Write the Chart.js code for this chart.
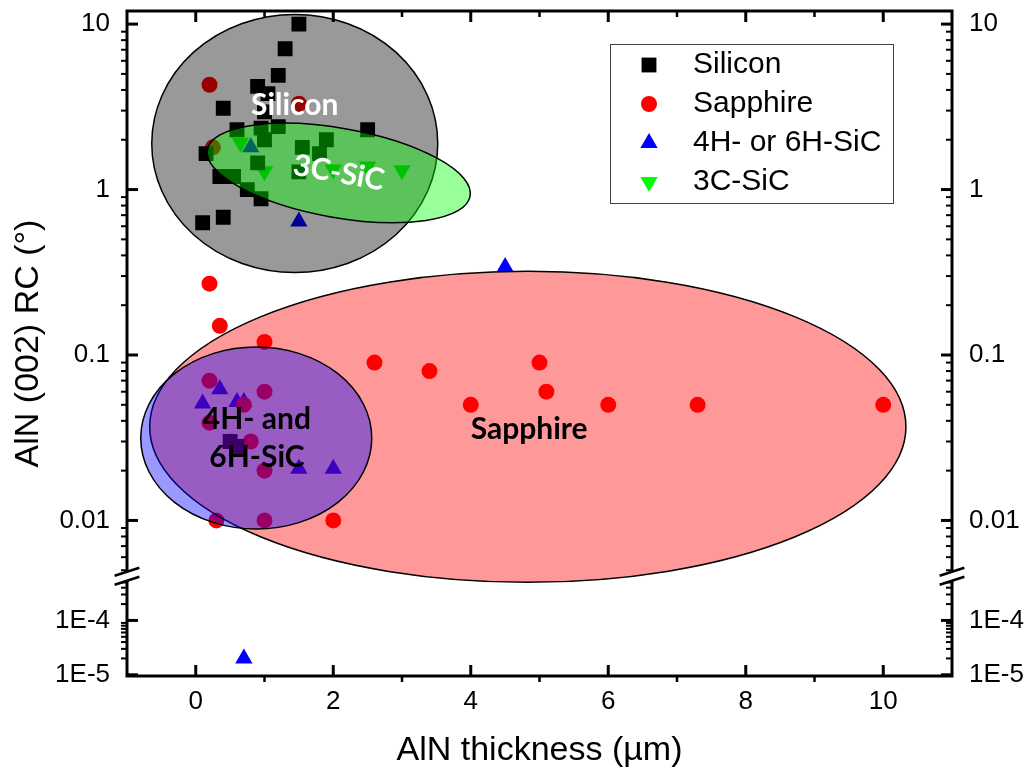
<!DOCTYPE html>
<html>
<head>
<meta charset="utf-8">
<script src="https://cdn.jsdelivr.net/npm/chart.js@4.4.1/dist/chart.umd.min.js"></script>
<style>
  html, body { margin: 0; padding: 0; background: #fff; }
  #wrap { width: 1029px; height: 771px; position: relative; }
</style>
</head>
<body>
<div id="wrap"><canvas id="chart"></canvas></div>
<script>
// Series (x = AlN thickness in µm, y = rocking curve FWHM in degrees)
const seriesNames = ['Silicon', 'Sapphire', '4H- or 6H-SiC', '3C-SiC'];

const siliconX = [1.5, 1.3, 1.2, 0.9, 1.05, 0.4, 1.0, 0.6, 0.95, 1.2, 2.5, 1.0, 1.55, 1.9, 1.8, 0.15, 0.9, 0.35, 0.55, 0.75, 0.95, 0.4, 0.1, 1.5, 0.5, 0.6];
const siliconY = [10, 7.1, 4.9, 4.2, 3.8, 3.1, 2.95, 2.3, 2.35, 2.4, 2.3, 2.0, 1.8, 2.0, 1.65, 1.65, 1.45, 1.2, 1.2, 1.0, 0.88, 0.68, 0.63, 1.28, 0.03, 0.028];

const sapphireX = [0.2, 1.5, 0.25, 0.2, 0.35, 1.0, 2.6, 3.4, 0.2, 1.0, 0.7, 0.2, 0.8, 1.0, 0.3, 1.0, 2.0, 4.0, 5.0, 5.1, 6.0, 7.3, 10.0];
const sapphireY = [4.3, 3.3, 1.8, 0.27, 0.15, 0.12, 0.09, 0.08, 0.07, 0.06, 0.05, 0.039, 0.03, 0.02, 0.01, 0.01, 0.01, 0.05, 0.09, 0.06, 0.05, 0.05, 0.05];

const hexSicX = [0.8, 1.5, 4.5, 0.35, 0.1, 0.6, 0.7, 0.5, 0.6, 1.5, 2.0, 0.7];
const hexSicY = [1.8, 0.64, 0.34, 0.062, 0.051, 0.052, 0.052, 0.0295, 0.0265, 0.0205, 0.0205, 2e-5];

const cubicSicX = [0.65, 1.0, 2.0, 2.5, 3.0];
const cubicSicY = [1.92, 1.29, 1.32, 1.38, 1.31];

// Axes
const xTickValues = [0, 2, 4, 6, 8, 10];
const yTickValues = [1e-5, 1e-4, 0.01, 0.1, 1, 10];
const yTickLabels = ['1E-5', '1E-4', '0.01', '0.1', '1', '10'];

// Grouping regions, in data units (rx in µm, ry in decades)
const regionNames = ['Silicon', '3C-SiC', 'Sapphire', '4H- and 6H-SiC'];
const regionCx = [1.44, 2.08, 4.83, 0.88];
const regionCy = [1.9, 1.26, 0.0368, 0.0315];
const regionRx = [2.08, 1.94, 5.5, 1.68];
const regionRy = [0.78, 0.27, 0.94, 0.55];
const regionTilt = [0, 10, 0, 0];
const regionLabelX = [1.44, 2.08, 4.85, 0.89];
const regionLabelY = [3.25, 1.26, 0.0353, 0.0312];
const regionLabelText = [['Silicon'], ['3C-SiC'], ['Sapphire'], ['4H- and', '6H-SiC']];

// broken log axis: lower piece and upper piece, lower piece gets LOW_SHARE of the height
const Y_LOW = [9.5e-6, 6.5e-4];
const Y_HIGH = [0.0046, 12];
const LOW_SHARE = 0.15;

const regionFill = ['rgba(0,0,0,0.4)', 'rgba(0,255,0,0.4)', 'rgba(255,0,0,0.4)', 'rgba(0,0,255,0.4)'];
const regionTextColor = ['#fff', '#fff', '#000', '#000'];

class BrokenLogScale extends Chart.Scale {
  determineDataLimits() {
    this.min = Y_LOW[0];
    this.max = Y_HIGH[1];
  }
  buildTicks() {
    return yTickValues.map(v => ({ value: v }));
  }
  getLabelForValue(v) {
    return String(v);
  }
  _decimal(v) {
    const lg = Math.log10(v);
    if (v >= Y_HIGH[0]) {
      const a = Math.log10(Y_HIGH[0]), b = Math.log10(Y_HIGH[1]);
      return LOW_SHARE + (1 - LOW_SHARE) * (lg - a) / (b - a);
    }
    const a = Math.log10(Y_LOW[0]), b = Math.log10(Y_LOW[1]);
    return LOW_SHARE * (lg - a) / (b - a);
  }
  getPixelForValue(v) {
    return this.getPixelForDecimal(this._decimal(v));
  }
  getValueForPixel(p) {
    const d = this.getDecimalForPixel(p);
    if (d >= LOW_SHARE) {
      const a = Math.log10(Y_HIGH[0]), b = Math.log10(Y_HIGH[1]);
      return Math.pow(10, a + (d - LOW_SHARE) / (1 - LOW_SHARE) * (b - a));
    }
    const a = Math.log10(Y_LOW[0]), b = Math.log10(Y_LOW[1]);
    return Math.pow(10, a + d / LOW_SHARE * (b - a));
  }
}
BrokenLogScale.id = 'brokenLog';
BrokenLogScale.defaults = {};
Chart.register(BrokenLogScale);

function points(xs, ys) {
  return xs.map((x, i) => ({ x: x, y: ys[i] }));
}

// minor tick positions
const xMinorTicks = [1, 3, 5, 7, 9];
const yMinorTicks = [];
[1e-5, 1e-4, 1e-3, 1e-2, 1e-1, 1].forEach(d => {
  for (let k = 2; k <= 9; k++) {
    const v = k * d;
    if ((v > Y_LOW[0] && v < Y_LOW[1]) || (v > Y_HIGH[0] && v < Y_HIGH[1])) yMinorTicks.push(v);
  }
});

const regionsPlugin = {
  id: 'regions',
  afterDatasetsDraw(chart) {
    const { ctx } = chart;
    const x = chart.scales.x, y = chart.scales.y;
    ctx.save();
    regionNames.forEach((name, i) => {
      const cx = x.getPixelForValue(regionCx[i]);
      const cy = y.getPixelForValue(regionCy[i]);
      const rx = x.getPixelForValue(regionCx[i] + regionRx[i]) - cx;
      const ry = cy - y.getPixelForValue(regionCy[i] * Math.pow(10, regionRy[i]));
      ctx.beginPath();
      ctx.ellipse(cx, cy, rx, ry, regionTilt[i] * Math.PI / 180, 0, Math.PI * 2);
      ctx.fillStyle = regionFill[i];
      ctx.fill();
      ctx.lineWidth = 1.5;
      ctx.strokeStyle = '#000';
      ctx.stroke();
    });
    ctx.textAlign = 'center';
    ctx.textBaseline = 'middle';
    ctx.font = 'bold 30px Lato';
    regionNames.forEach((name, i) => {
      const lx = x.getPixelForValue(regionLabelX[i]);
      const ly = y.getPixelForValue(regionLabelY[i]);
      const lines = regionLabelText[i];
      ctx.save();
      ctx.translate(lx, ly);
      ctx.rotate(regionTilt[i] * Math.PI / 180);
      ctx.fillStyle = regionTextColor[i];
      lines.forEach((t, j) => {
        ctx.fillText(t, 0, (j - (lines.length - 1) / 2) * 38);
      });
      ctx.restore();
    });
    ctx.restore();
  }
};

const framePlugin = {
  id: 'frame',
  afterDraw(chart) {
    const { ctx, chartArea: a } = chart;
    const x = chart.scales.x, y = chart.scales.y;
    ctx.save();
    ctx.strokeStyle = '#000';
    ctx.lineWidth = 3;
    ctx.strokeRect(a.left, a.top, a.right - a.left, a.bottom - a.top);

    const line = (x1, y1, x2, y2, w) => {
      ctx.lineWidth = w;
      ctx.beginPath();
      ctx.moveTo(x1, y1);
      ctx.lineTo(x2, y2);
      ctx.stroke();
    };
    xTickValues.forEach(v => {
      const px = x.getPixelForValue(v);
      line(px, a.bottom, px, a.bottom - 11, 3);
      line(px, a.top, px, a.top + 11, 3);
    });
    xMinorTicks.forEach(v => {
      const px = x.getPixelForValue(v);
      line(px, a.bottom, px, a.bottom + 6, 2.5);
      line(px, a.top, px, a.top + 6, 2.5);
    });
    yTickValues.forEach(v => {
      const py = y.getPixelForValue(v);
      line(a.left, py, a.left + 11, py, 3);
      line(a.right, py, a.right - 11, py, 3);
    });
    yMinorTicks.forEach(v => {
      const py = y.getPixelForValue(v);
      line(a.left, py, a.left - 6, py, 2);
      line(a.right, py, a.right - 6, py, 2);
    });

    // axis break marks
    const yb = y.getPixelForDecimal(LOW_SHARE);
    const L = 13, th = 18 * Math.PI / 180, g = 4.5;
    const dx = L * Math.cos(th), dy = L * Math.sin(th);
    [a.left, a.right].forEach(xb => {
      ctx.fillStyle = '#fff';
      ctx.beginPath();
      ctx.moveTo(xb - dx, yb - g + dy);
      ctx.lineTo(xb + dx, yb - g - dy);
      ctx.lineTo(xb + dx, yb + g - dy);
      ctx.lineTo(xb - dx, yb + g + dy);
      ctx.closePath();
      ctx.fill();
      line(xb - dx, yb - g + dy, xb + dx, yb - g - dy, 2.5);
      line(xb - dx, yb + g + dy, xb + dx, yb + g - dy, 2.5);
    });

    // legend
    ctx.fillStyle = '#fff';
    ctx.fillRect(610, 44, 283, 159);
    ctx.strokeStyle = '#444';
    ctx.lineWidth = 1;
    ctx.strokeRect(610.5, 44.5, 283, 159);
    ctx.font = '30px "Liberation Sans"';
    ctx.textBaseline = 'middle';
    ctx.textAlign = 'left';
    chart.data.datasets.forEach((ds, i) => {
      const yy = 65 + i * 39;
      ctx.fillStyle = ds.backgroundColor;
      Chart.helpers.drawPoint(ctx, {
        pointStyle: ds.pointStyle, radius: ds.pointRadius,
        rotation: ds.pointRotation || 0, borderWidth: 0
      }, 649, yy);
      ctx.fillStyle = '#000';
      ctx.fillText(ds.label, 693, yy);
    });
    ctx.restore();
  }
};

const tickFont = { family: 'Liberation Sans', size: 26 };
const titleFont = { family: 'Liberation Sans', size: 34 };

// keep the plot box fixed: no extra room for overhanging tick labels
const noOverhang = s => { s.paddingTop = 0; s.paddingBottom = 0; s.paddingLeft = 0; s.paddingRight = 0; };

new Chart(document.getElementById('chart'), {
  type: 'scatter',
  data: {
    datasets: [
      { label: seriesNames[0], data: points(siliconX, siliconY), pointStyle: 'rect', pointRadius: 10.5,
        backgroundColor: '#000000', pointBorderWidth: 0 },
      { label: seriesNames[1], data: points(sapphireX, sapphireY), pointStyle: 'circle', pointRadius: 8,
        backgroundColor: '#ff0000', pointBorderWidth: 0 },
      { label: seriesNames[2], data: points(hexSicX, hexSicY), pointStyle: 'triangle', pointRadius: 10,
        backgroundColor: '#0000ff', pointBorderWidth: 0 },
      { label: seriesNames[3], data: points(cubicSicX, cubicSicY), pointStyle: 'triangle', pointRotation: 180,
        pointRadius: 10, backgroundColor: '#00ff00', pointBorderWidth: 0 }
    ]
  },
  options: {
    responsive: true,
    maintainAspectRatio: false,
    animation: false,
    events: [],
    layout: { padding: 0 },
    plugins: { legend: { display: false }, tooltip: { enabled: false } },
    scales: {
      x: {
        type: 'linear', position: 'bottom', min: -1, max: 11,
        afterBuildTicks: s => { s.ticks = xTickValues.map(v => ({ value: v })); },
        afterFit: s => { s.height = 95; noOverhang(s); },
        grid: { display: false, drawTicks: false },
        border: { display: false },
        ticks: { font: tickFont, color: '#000', padding: 10, autoSkip: false, maxRotation: 0 },
        title: { display: true, text: 'AlN thickness (µm)', font: titleFont, color: '#000', padding: 0 }
      },
      x2: {
        type: 'linear', position: 'top', min: -1, max: 11,
        afterFit: s => { s.height = 11; noOverhang(s); },
        grid: { display: false, drawTicks: false },
        border: { display: false },
        ticks: { display: false }
      },
      y: {
        type: 'brokenLog', position: 'left',
        afterFit: s => { s.width = 127; noOverhang(s); },
        grid: { display: false, drawTicks: false },
        border: { display: false },
        ticks: { font: tickFont, color: '#000', padding: 17, autoSkip: false,
          callback: v => yTickLabels[yTickValues.indexOf(v)] },
        title: { display: true, text: 'AlN (002) RC (°)', font: titleFont, color: '#000', padding: { top: 8, bottom: 0 } }
      },
      y2: {
        type: 'brokenLog', position: 'right',
        afterFit: s => { s.width = 77; noOverhang(s); },
        grid: { display: false, drawTicks: false },
        border: { display: false },
        ticks: { font: tickFont, color: '#000', padding: 17, autoSkip: false,
          callback: v => yTickLabels[yTickValues.indexOf(v)] }
      }
    }
  },
  plugins: [regionsPlugin, framePlugin]
});
</script>
</body>
</html>
